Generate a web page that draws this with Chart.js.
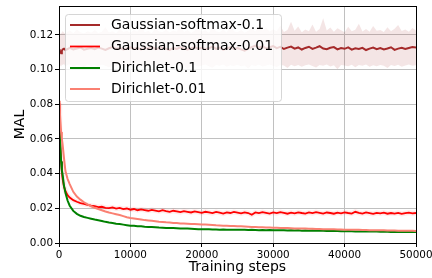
<!DOCTYPE html>
<html>
<head>
<meta charset="utf-8">
<script src="https://cdn.jsdelivr.net/npm/chart.js@4.4.0/dist/chart.umd.min.js"></script>
<style>
  html, body { margin: 0; padding: 0; background: #fff; }
</style>
</head>
<body>
<canvas id="canvas" width="432" height="278"></canvas>
<script>
// training steps (denser at the start where the curves drop fast)
var steps = [0, 100, 200, 300, 400, 500, 700, 900, 1200, 1500, 2000, 2500, 3000, 3500, 4000, 4500,
  5000, 5500, 6000, 6500, 7000, 7500, 8000, 8500, 9000, 9500,
  10000, 10500, 11000, 11500, 12000, 12500, 13000, 13500, 14000, 14500,
  15000, 15500, 16000, 16500, 17000, 17500, 18000, 18500, 19000, 19500,
  20000, 20500, 21000, 21500, 22000, 22500, 23000, 23500, 24000, 24500,
  25000, 25500, 26000, 26500, 27000, 27500, 28000, 28500, 29000, 29500,
  30000, 30500, 31000, 31500, 32000, 32500, 33000, 33500, 34000, 34500,
  35000, 35500, 36000, 36500, 37000, 37500, 38000, 38500, 39000, 39500,
  40000, 40500, 41000, 41500, 42000, 42500, 43000, 43500, 44000, 44500,
  45000, 45500, 46000, 46500, 47000, 47500, 48000, 48500, 49000, 49500,
  50000];

// Gaussian-softmax-0.1 : mean and spread band
var gaussSoftmax01 = [.1118, .1112, .1100, .1094, .1108, .1116, .1121, .1113, .1119, .1126, .1117, .1122, .1128, .1115, .1120, .1124,
  .1118, .1127, .1121, .1114, .1123, .1130, .1119, .1125, .1116, .1122,
  .1128, .1119, .1124, .1117, .1126, .1121, .1131, .1118, .1123, .1127,
  .1120, .1114, .1125, .1119, .1128, .1122, .1116, .1124, .1129, .1121,
  .1126, .1118, .1123, .1133, .1120, .1127, .1115, .1122, .1128, .1119,
  .1124, .1117, .1109, .1121, .1130, .1138, .1126, .1134, .1122, .1129,
  .1136, .1124, .1131, .1119, .1127, .1133, .1121, .1128, .1116, .1125,
  .1132, .1120, .1127, .1135, .1122, .1118, .1126, .1130, .1117, .1124,
  .1120, .1128, .1115, .1123, .1119, .1126, .1113, .1121, .1127, .1118,
  .1124, .1116, .1122, .1129, .1114, .1121, .1126, .1119, .1125, .1130,
  .1127];
var gaussSoftmax01Upper = [.1195, .1210, .1202, .1215, .1208, .1223, .1212, .1205, .1218, .1226, .1210, .1231, .1215, .1208, .1222, .1213,
  .1228, .1211, .1219, .1245, .1214, .1222, .1209, .1236, .1217, .1224,
  .1212, .1229, .1218, .1251, .1215, .1223, .1210, .1238, .1220, .1216,
  .1232, .1214, .1226, .1219, .1262, .1217, .1228, .1211, .1224, .1240,
  .1218, .1227, .1213, .1246, .1221, .1216, .1231, .1214, .1258, .1222,
  .1215, .1229, .1212, .1224, .1237, .1218, .1270, .1226, .1242, .1219,
  .1233, .1221, .1255, .1217, .1228, .1276, .1224, .1249, .1216, .1231,
  .1222, .1261, .1218, .1234, .1296, .1225, .1243, .1219, .1238, .1227,
  .1216, .1248, .1222, .1230, .1265, .1220, .1235, .1218, .1252, .1224,
  .1229, .1217, .1244, .1221, .1236, .1258, .1223, .1231, .1219, .1240,
  .1226];
var gaussSoftmax01Lower = [.1040, .1035, .1022, .1018, .1030, .1026, .1033, .1020, .1028, .1031, .1019, .1027, .1024, .1015, .1029, .1022,
  .1026, .1018, .1030, .1023, .1012, .1027, .1021, .1029, .1016, .1025,
  .1022, .1030, .1017, .1026, .1008, .1024, .1028, .1019, .1025, .1021,
  .1027, .1014, .1023, .1029, .1018, .1025, .1003, .1022, .1028, .1017,
  .1024, .1029, .1020, .1011, .1026, .1022, .1030, .1016, .1025, .1021,
  .1028, .1019, .1024, .1006, .1027, .1021, .1029, .1018, .1024, .1030,
  .1022, .1015, .1027, .1024, .1009, .1028, .1020, .1026, .1017, .1025,
  .1029, .1021, .1012, .1026, .1023, .1030, .1018, .1025, .1002, .1027,
  .1024, .1019, .1028, .1014, .1026, .1022, .1029, .1017, .1025, .1020,
  .1027, .1023, .1010, .1026, .1021, .1028, .1016, .1024, .1029, .1022,
  .1025];

// Gaussian-softmax-0.01
var gaussSoftmax001 = [.0805, .0680, .0555, .0470, .0410, .0370, .0325, .0300, .0276, .0262, .0247, .0238, .0230, .0226, .0220, .0215,
  .0212, .0207, .0209, .0203, .0201, .0205, .0198, .0202, .0196, .0199,
  .0192, .0196, .0189, .0194, .0190, .0186, .0191, .0187, .0183, .0189,
  .0184, .0180, .0186, .0182, .0178, .0184, .0180, .0176, .0182, .0178,
  .0174, .0180, .0176, .0172, .0179, .0175, .0170, .0177, .0173, .0179,
  .0175, .0171, .0177, .0173, .0163, .0176, .0172, .0178, .0174, .0170,
  .0176, .0172, .0178, .0174, .0169, .0175, .0171, .0177, .0173, .0170,
  .0176, .0172, .0178, .0174, .0170, .0176, .0173, .0169, .0175, .0171,
  .0177, .0173, .0170, .0180, .0174, .0170, .0176, .0172, .0168, .0174,
  .0171, .0175, .0169, .0173, .0170, .0174, .0168, .0172, .0175, .0171,
  .0173];

// Dirichlet-0.1
var dirichlet01 = [.0735, .0640, .0540, .0470, .0420, .0395, .0330, .0290, .0245, .0215, .0185, .0168, .0157, .0150, .0145, .0140,
  .0135, .0131, .0127, .0122, .0118, .0115, .0111, .0109, .0106, .0103,
  .0100, .0099, .0097, .0096, .0094, .0093, .0092, .0091, .0089, .0088,
  .0087, .0086, .0086, .0085, .0084, .0083, .0083, .0082, .0081, .0080,
  .0079, .0080, .0079, .0078, .0078, .0077, .0078, .0077, .0076, .0077,
  .0076, .0076, .0077, .0075, .0076, .0075, .0074, .0075, .0074, .0075,
  .0074, .0073, .0074, .0073, .0072, .0073, .0072, .0073, .0071, .0072,
  .0071, .0072, .0070, .0071, .0070, .0069, .0070, .0069, .0069, .0068,
  .0068, .0069, .0068, .0067, .0067, .0068, .0066, .0067, .0066, .0066,
  .0065, .0066, .0065, .0064, .0065, .0064, .0064, .0065, .0063, .0064,
  .0063];

// Dirichlet-0.01
var dirichlet001 = [.0820, .0770, .0700, .0640, .0600, .0570, .0490, .0415, .0370, .0340, .0295, .0268, .0250, .0235, .0223, .0212,
  .0203, .0196, .0189, .0182, .0176, .0171, .0166, .0161, .0155, .0149,
  .0144, .0141, .0138, .0135, .0132, .0130, .0128, .0126, .0123, .0121,
  .0119, .0118, .0116, .0115, .0113, .0112, .0111, .0110, .0109, .0108,
  .0107, .0106, .0105, .0104, .0102, .0101, .0100, .0099, .0098, .0098,
  .0097, .0096, .0095, .0094, .0093, .0092, .0091, .0091, .0090, .0089,
  .0088, .0088, .0087, .0086, .0086, .0085, .0084, .0084, .0083, .0083,
  .0082, .0082, .0081, .0081, .0080, .0080, .0079, .0079, .0078, .0078,
  .0077, .0077, .0076, .0076, .0076, .0075, .0075, .0074, .0074, .0074,
  .0073, .0073, .0072, .0072, .0072, .0071, .0071, .0070, .0070, .0070,
  .0069];

var seriesLabels = ['Gaussian-softmax-0.1', 'Gaussian-softmax-0.01', 'Dirichlet-0.1', 'Dirichlet-0.01'];
var xTicks = [0, 10000, 20000, 30000, 40000, 50000];
var yTicks = [0, 0.02, 0.04, 0.06, 0.08, 0.10, 0.12];

function toPoints(vals) {
  return steps.map(function(s, i) {
    return { x: s, y: vals[i] };
  });
}

// draws the box round the plot and the legend inside it (matplotlib style)
var frameLegendPlugin = {
  id: 'frameLegend',
  afterDraw: function(chart) {
    var ctx = chart.ctx;
    var a = chart.chartArea;
    ctx.save();
    ctx.strokeStyle = '#000';
    ctx.lineWidth = 1;
    ctx.strokeRect(a.left + 0.5, a.top + 0.5, a.right - a.left, a.bottom - a.top);

    var lx = 65.5, ly = 14.5, lw = 216, lh = 87, r = 3;
    ctx.beginPath();
    ctx.moveTo(lx + r, ly);
    ctx.arcTo(lx + lw, ly, lx + lw, ly + lh, r);
    ctx.arcTo(lx + lw, ly + lh, lx, ly + lh, r);
    ctx.arcTo(lx, ly + lh, lx, ly, r);
    ctx.arcTo(lx, ly, lx + lw, ly, r);
    ctx.closePath();
    ctx.fillStyle = 'rgba(255,255,255,0.8)';
    ctx.fill();
    ctx.strokeStyle = 'rgba(204,204,204,0.8)';
    ctx.stroke();

    var rowY = [25, 46.5, 68, 89];
    var k = 0;
    ctx.font = '14px "DejaVu Sans"';
    ctx.textBaseline = 'middle';
    ctx.textAlign = 'left';
    chart.data.datasets.forEach(function(ds) {
      if (!ds.inLegend) return;
      var y = rowY[k++];
      ctx.strokeStyle = ds.borderColor;
      ctx.lineWidth = ds.borderWidth;
      ctx.beginPath();
      ctx.moveTo(70, y);
      ctx.lineTo(100, y);
      ctx.stroke();
      ctx.fillStyle = '#000';
      ctx.fillText(ds.label, 111, y);
    });
    ctx.restore();
  }
};

var chartInstance = new Chart(document.getElementById('canvas'), {
  type: 'line',
  data: {
    datasets: [{
      label: 'band-upper',
      data: toPoints(gaussSoftmax01Upper),
      borderWidth: 0,
      borderColor: 'rgba(0,0,0,0)',
      backgroundColor: 'rgba(165,42,42,0.12)',
      fill: '+1',
      order: 10
    }, {
      label: 'band-lower',
      data: toPoints(gaussSoftmax01Lower),
      borderWidth: 0,
      borderColor: 'rgba(0,0,0,0)',
      fill: false,
      order: 10
    }, {
      label: 'haze',
      data: toPoints(gaussSoftmax001),
      borderColor: 'rgba(255,0,0,0.08)',
      borderWidth: 5,
      fill: false,
      order: 9
    }, {
      label: seriesLabels[0],
      data: toPoints(gaussSoftmax01),
      borderColor: '#a52a2a',
      borderWidth: 2,
      fill: false,
      inLegend: true,
      order: 4
    }, {
      label: seriesLabels[1],
      data: toPoints(gaussSoftmax001),
      borderColor: '#ff0000',
      borderWidth: 1.8,
      fill: false,
      inLegend: true,
      order: 3
    }, {
      label: seriesLabels[2],
      data: toPoints(dirichlet01),
      borderColor: '#008000',
      borderWidth: 2,
      fill: false,
      inLegend: true,
      order: 2
    }, {
      label: seriesLabels[3],
      data: toPoints(dirichlet001),
      borderColor: '#fa8072',
      borderWidth: 2,
      fill: false,
      inLegend: true,
      order: 1
    }]
  },
  options: {
    responsive: false,
    animation: false,
    devicePixelRatio: 1,
    elements: {
      point: { radius: 0 },
      line: { tension: 0 }
    },
    layout: { padding: { left: 0, top: 6, right: 16, bottom: 0 } },
    plugins: {
      legend: { display: false },
      tooltip: { enabled: false }
    },
    scales: {
      x: {
        type: 'linear',
        min: 0,
        max: 50000,
        afterBuildTicks: function(s) {
          s.ticks = xTicks.map(function(v) { return { value: v }; });
        },
        afterFit: function(s) {
          s.height = 35;
          s.paddingLeft = 0;
          s.paddingRight = 0;
        },
        ticks: {
          font: { family: 'DejaVu Sans', size: 10.4 },
          color: '#000',
          padding: 2,
          maxRotation: 0,
          callback: function(v) { return String(v); }
        },
        grid: { color: '#c0c0c0', tickColor: '#000', tickLength: 4, lineWidth: 1 },
        border: { display: false },
        title: {
          display: true,
          text: 'Training steps',
          font: { family: 'DejaVu Sans', size: 14 },
          color: '#000',
          padding: { top: 0, bottom: 2.6 }
        }
      },
      y: {
        min: 0,
        max: 0.1367,
        afterBuildTicks: function(s) {
          s.ticks = yTicks.map(function(v) { return { value: v }; });
        },
        afterFit: function(s) {
          s.width = 59;
          s.paddingTop = 0;
          s.paddingBottom = 0;
        },
        ticks: {
          font: { family: 'DejaVu Sans', size: 10.4 },
          color: '#000',
          padding: 2,
          callback: function(v) { return v.toFixed(2); }
        },
        grid: { color: '#c0c0c0', tickColor: '#000', tickLength: 4, lineWidth: 1 },
        border: { display: false },
        title: {
          display: true,
          text: 'MAL',
          font: { family: 'DejaVu Sans', size: 14 },
          color: '#000',
          padding: { top: 11.6, bottom: 0 }
        }
      }
    }
  },
  plugins: [frameLegendPlugin]
});
</script>
</body>
</html>
